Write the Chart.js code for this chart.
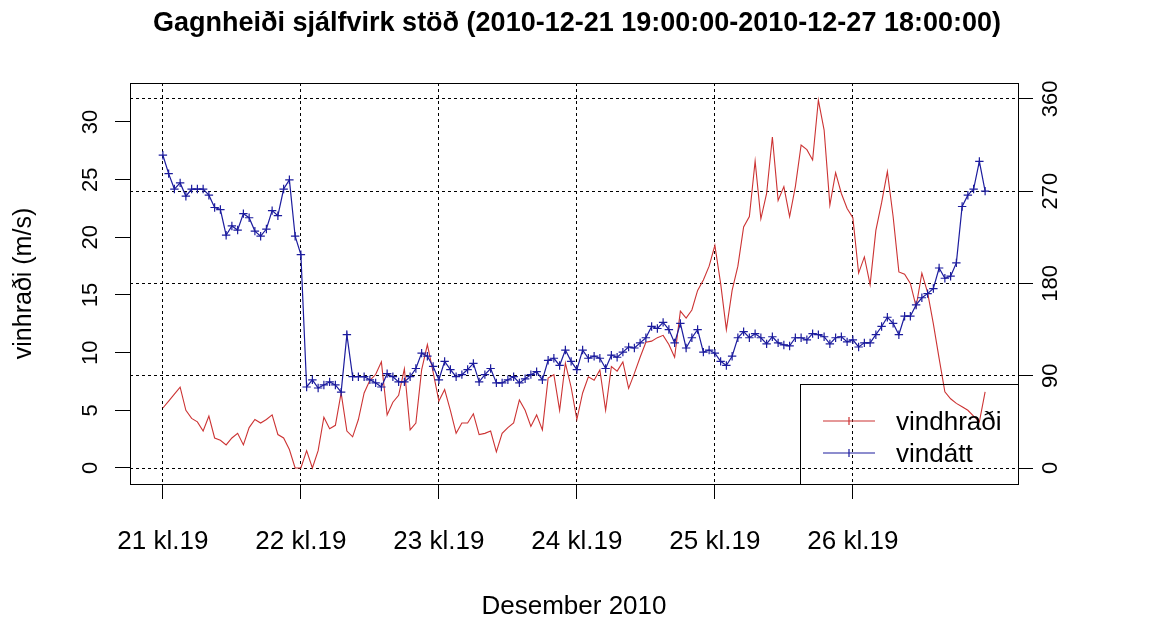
<!DOCTYPE html>
<html>
<head>
<meta charset="utf-8">
<script src="https://cdn.jsdelivr.net/npm/chart.js@4"></script>
<style>
  html, body { margin: 0; padding: 0; background: #fff; }
</style>
</head>
<body>
<canvas id="chart" width="1154" height="617"></canvas>
<script>
// hourly readings, starting 21 Dec kl.19
const vindhradi = [
  5.2, 5.8, 6.4, 7.0, 5.0, 4.3, 4.0, 3.2, 4.5, 2.6, 2.4, 2.0, 2.6, 3.0, 2.0, 3.5, 4.2, 3.9, 4.2, 4.6, 2.9, 2.6, 1.6, 0.0,
  0.0, 1.5, 0.0, 1.5, 4.4, 3.4, 3.7, 6.5, 3.2, 2.7, 4.2, 6.5, 7.6, 8.1, 9.2, 4.6, 5.7, 6.3, 8.6, 3.3, 3.9, 8.5, 10.7, 8.3,
  5.8, 6.8, 5.0, 3.0, 3.9, 3.9, 4.7, 2.9, 3.0, 3.2, 1.4, 3.0, 3.5, 3.9, 5.9, 5.0, 3.6, 4.6, 3.3, 7.8, 8.1, 5.0, 9.1, 7.0,
  4.2, 6.5, 7.9, 7.6, 8.5, 5.0, 8.8, 8.4, 9.2, 6.9, 8.2, 9.6, 10.9, 11.0, 11.3, 11.5, 10.7, 9.6, 13.6, 13.0, 13.7, 15.4, 16.3, 17.5,
  19.3, 16.0, 12.0, 15.4, 17.5, 20.9, 21.8, 26.6, 21.6, 23.8, 28.7, 23.2, 24.4, 21.8, 24.4, 28.0, 27.6, 26.7, 31.9, 29.3, 22.8, 25.6, 23.8, 22.5,
  21.7, 16.9, 18.3, 15.9, 20.6, 23.0, 25.7, 21.8, 17.0, 16.8, 16.0, 14.0, 16.9, 15.2, 12.5, 9.5, 6.6, 6.0, 5.6, 5.3, 5.0, 4.5, 4.0, 6.6
];
const vindatt = [
  305, 287, 272, 278, 265, 272, 272, 272, 266, 254, 252, 227, 236, 232, 248, 244, 231, 226, 233, 251, 246, 272, 281, 226,
  208, 79, 86, 78, 81, 84, 81, 74, 130, 89, 89, 89, 86, 83, 79, 92, 89, 84, 84, 89, 97, 112, 109, 99,
  86, 104, 96, 89, 91, 96, 102, 84, 91, 97, 83, 83, 86, 89, 83, 87, 91, 94, 86, 105, 107, 100, 115, 104,
  96, 115, 107, 109, 107, 97, 110, 108, 113, 118, 117, 122, 127, 138, 136, 142, 135, 122, 141, 117, 127, 135, 113, 115,
  112, 104, 100, 109, 127, 133, 127, 131, 127, 121, 128, 122, 120, 119, 127, 127, 125, 131, 130, 128, 121, 127, 128, 123,
  125, 118, 122, 122, 130, 138, 147, 141, 130, 148, 148, 159, 166, 170, 175, 195, 185, 187, 200, 255, 266, 272, 299, 270
];
const dayTicks = [0, 24, 48, 72, 96, 120];
const dayLabels = ['21 kl.19', '22 kl.19', '23 kl.19', '24 kl.19', '25 kl.19', '26 kl.19'];
const speedTicks = [0, 5, 10, 15, 20, 25, 30];
const dirTicks = [0, 90, 180, 270, 360];

const FONT = '"Liberation Sans", Arial, sans-serif';
const RED = '#cc3333';
const BLUE = '#1c1c9e';

const toPoints = arr => arr.map((v, i) => ({ x: i, y: v }));

// box round the plot + rotated y tick labels, R style
const frame = {
    id: 'frame',
    afterDraw(chart) {
        const ctx = chart.ctx;
        const a = chart.chartArea;
        ctx.save();
        ctx.strokeStyle = '#000';
        ctx.lineWidth = 1;
        ctx.strokeRect(Math.round(a.left) + 0.5, Math.round(a.top) + 0.5, a.right - a.left, a.bottom - a.top);
        ctx.fillStyle = '#000';
        ctx.font = '22px ' + FONT;
        ctx.textAlign = 'center';
        ctx.textBaseline = 'middle';
        const drawLabels = (scale, values, x) => {
            values.forEach(v => {
                ctx.save();
                ctx.translate(x, scale.getPixelForValue(v));
                ctx.rotate(-Math.PI / 2);
                ctx.fillText(String(v), 0, 0);
                ctx.restore();
            });
        };
        drawLabels(chart.scales.y, speedTicks, 91);
        drawLabels(chart.scales.y2, dirTicks, 1051);
        ctx.restore();
    }
};

// legend in the bottom right corner, transparent box
const cornerLegend = {
    id: 'cornerLegend',
    afterDraw(chart) {
        const ctx = chart.ctx;
        const a = chart.chartArea;
        const left = 800, top = 384;
        ctx.save();
        ctx.strokeStyle = '#000';
        ctx.lineWidth = 1;
        ctx.strokeRect(left + 0.5, top + 0.5, a.right - left, a.bottom - top);
        ctx.font = '26px ' + FONT;
        ctx.textBaseline = 'middle';
        ctx.textAlign = 'left';
        chart.data.datasets.forEach((ds, i) => {
            const y = top + 37 + i * 32;
            ctx.strokeStyle = ds.borderColor;
            ctx.lineWidth = 1.2;
            ctx.beginPath();
            ctx.moveTo(823, y);
            ctx.lineTo(875, y);
            ctx.moveTo(849, y - 4);
            ctx.lineTo(849, y + 4);
            ctx.stroke();
            ctx.fillStyle = '#000';
            ctx.fillText(ds.label, 896, y + 2);
        });
        ctx.restore();
    }
};

new Chart(document.getElementById('chart'), {
    type: 'line',
    data: {
        datasets: [
            {
                label: 'vindhraði',
                data: toPoints(vindhradi),
                yAxisID: 'y',
                borderColor: RED,
                backgroundColor: RED,
                borderWidth: 1.1,
                pointRadius: 0,
                order: 1
            },
            {
                label: 'vindátt',
                data: toPoints(vindatt),
                yAxisID: 'y2',
                borderColor: BLUE,
                backgroundColor: BLUE,
                borderWidth: 1.2,
                pointStyle: 'cross',
                pointRadius: 4.2,
                pointBorderWidth: 1.2,
                pointBorderColor: BLUE,
                order: 0
            }
        ]
    },
    options: {
        responsive: false,
        animation: false,
        devicePixelRatio: 1,
        layout: { padding: 0 },
        plugins: {
            legend: { display: false },
            tooltip: { enabled: false },
            title: {
                display: true,
                text: 'Gagnheiði sjálfvirk stöð (2010-12-21 19:00:00-2010-12-27 18:00:00)',
                color: '#000',
                font: { family: FONT, size: 27, weight: 'bold' },
                padding: { top: 7, bottom: 43.6 }
            }
        },
        scales: {
            x: {
                type: 'linear',
                min: -5.72,
                max: 148.72,
                afterBuildTicks: s => { s.ticks = dayTicks.map(v => ({ value: v })); },
                afterFit: s => { s.height = 133; },
                ticks: {
                    callback: (v, i) => dayLabels[i],
                    color: '#000',
                    font: { family: FONT, size: 26 },
                    padding: 27,
                    maxRotation: 0,
                    autoSkip: false
                },
                grid: {
                    color: '#000',
                    lineWidth: 1,
                    tickLength: 15,
                    tickColor: '#000',
                    tickBorderDash: []
                },
                border: { display: false, dash: [3, 3] },
                title: {
                    display: true,
                    text: 'Desember 2010',
                    color: '#000',
                    font: { family: FONT, size: 26, lineHeight: 0.75 },
                    padding: { top: 0, bottom: 0 }
                }
            },
            y: {
                position: 'left',
                min: -1.39,
                max: 33.38,
                afterBuildTicks: s => { s.ticks = speedTicks.map(v => ({ value: v })); },
                afterFit: s => { s.width = 130; },
                ticks: { display: false },
                grid: {
                    drawOnChartArea: false,
                    tickLength: 15,
                    tickColor: '#000',
                    tickBorderDash: []
                },
                border: { display: false },
                title: {
                    display: true,
                    text: 'vinhraði (m/s)',
                    color: '#000',
                    font: { family: FONT, size: 25 },
                    padding: { top: 9, bottom: 0 }
                }
            },
            y2: {
                position: 'right',
                min: -15.6,
                max: 375.4,
                afterBuildTicks: s => { s.ticks = dirTicks.map(v => ({ value: v })); },
                afterFit: s => { s.width = 136; },
                ticks: { display: false },
                grid: {
                    drawOnChartArea: true,
                    color: '#000',
                    lineWidth: 1,
                    tickLength: 15,
                    tickColor: '#000',
                    tickBorderDash: []
                },
                border: { display: false, dash: [3, 3] }
            }
        }
    },
    plugins: [frame, cornerLegend]
});
</script>
</body>
</html>
